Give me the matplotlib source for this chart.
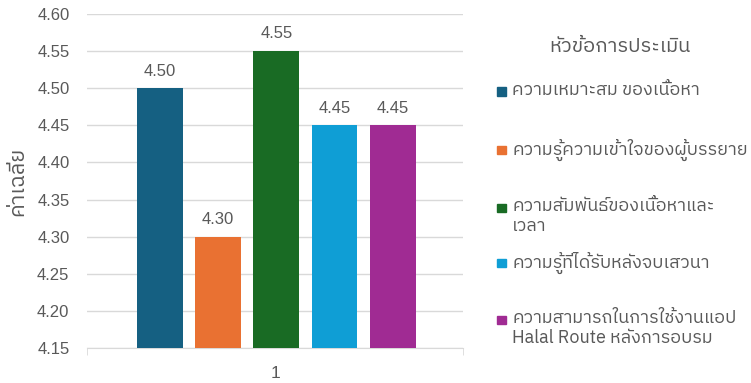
import matplotlib
matplotlib.use("Agg")
from matplotlib import pyplot as plt
from matplotlib import font_manager, ft2font
from matplotlib.patches import Rectangle

categories = ["1"]
labels = [
    "ความเหมาะสม ของเนื้อหา",
    "ความรู้ความเข้าใจของผู้บรรยาย",
    "ความสัมพันธ์ของเนื้อหาและ\nเวลา",
    "ความรู้ที่ได้รับหลังจบเสวนา",
    "ความสามารถในการใช้งานแอป\nHalal Route หลังการอบรม",
]
values = [4.50, 4.30, 4.55, 4.45, 4.45]
colors = ["#156082", "#E97132", "#196B24", "#0F9ED5", "#A02B93"]
yticks = [4.15, 4.20, 4.25, 4.30, 4.35, 4.40, 4.45, 4.50, 4.55, 4.60]
legend_title = "หัวข้อการประเมิน"
ylabel = "ค่าเฉลี่ย"


def find_thai_font():
    found = []
    for f in font_manager.fontManager.ttflist:
        try:
            cmap = ft2font.FT2Font(f.fname).get_charmap()
        except Exception:
            continue
        if 0x0E01 in cmap:
            found.append(f.name)
    for name in found:
        if "Thai" in name and "Looped" not in name:
            return name
    return found[0] if found else "DejaVu Sans"


thai = find_thai_font()
plt.rcParams["font.family"] = [thai, "Liberation Sans", "DejaVu Sans"]
num_font = ["Liberation Sans", "DejaVu Sans"]
grey = "#595959"

fig = plt.figure(figsize=(7.51, 3.83), dpi=100)
ax = fig.add_axes([0.1165, 0.0914, 0.5, 0.872])

step = 0.155
width = 0.122
for i, (v, c) in enumerate(zip(values, colors)):
    x = (i - 2) * step + 0.003
    ax.bar(x, v - 4.15, width=width, bottom=4.15, color=c, zorder=3)
    ax.annotate(f"{v:.2f}", (x, v), xytext=(0, 7), textcoords="offset points",
                ha="center", va="bottom", fontsize=12, color=grey,
                family=num_font)

ax.set_xlim(-0.5, 0.5)
ax.set_ylim(4.15, 4.60)
ax.set_yticks(yticks)
ax.set_yticklabels([f"{t:.2f}" for t in yticks], family=num_font)
ax.set_xticks([0])
ax.set_xticklabels(categories, family=num_font)
ax.set_xticks([-0.5, 0.5], minor=True)
ax.tick_params(axis="x", which="minor", length=5, color="#d9d9d9")
ax.tick_params(axis="x", which="major", length=0, pad=13, labelsize=12.5, labelcolor=grey)
ax.tick_params(axis="y", length=0, pad=13, labelsize=12, labelcolor=grey)
ax.grid(axis="y", color="#d9d9d9", linewidth=1, zorder=0)
for s in ["top", "right", "left"]:
    ax.spines[s].set_visible(False)
ax.spines["bottom"].set_color("#d9d9d9")
ax.set_ylabel(ylabel, fontsize=15.5, color=grey, labelpad=6)

# legend drawn by hand, Excel style spacing
fig.text(620 / 751, 1 - 47 / 383, legend_title, ha="center", va="center",
         fontsize=14.5, color=grey)
first_line_y = [92, 150, 208, 263, 320]
for lab, c, y in zip(labels, colors, first_line_y):
    fig.patches.append(Rectangle((497 / 751, 1 - (y + 4) / 383), 8.5 / 751, 8.5 / 383,
                                 transform=fig.transFigure, color=c))
    fig.text(512 / 751, 1 - (y - 11) / 383, lab, ha="left", va="top",
             fontsize=13, color=grey, linespacing=1.15)

fig.savefig("out.png", dpi=100)
